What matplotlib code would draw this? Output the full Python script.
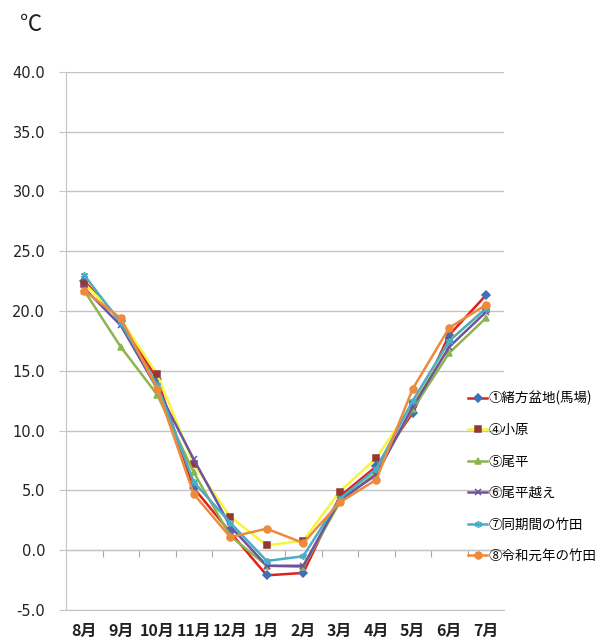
import matplotlib.pyplot as plt
import numpy as np

plt.rcParams['font.family'] = ['Noto Sans CJK JP', 'DejaVu Sans']

tsuki = ["8月", "9月", "10月", "11月", "12月", "1月", "2月", "3月", "4月", "5月", "6月", "7月"]

ogata = [22.5, 19.2, 14.3, 5.2, 1.5, -2.1, -1.9, 4.5, 7.0, 11.5, 18.0, 21.3]
ohara = [22.3, 19.3, 14.7, 7.2, 2.8, 0.4, 0.8, 4.9, 7.7, 12.2, 17.5, 20.2]
obira = [21.7, 17.0, 13.0, 6.5, 1.2, -1.3, -1.4, 4.0, 6.5, 11.8, 16.5, 19.4]
obira_goe = [21.9, 18.8, 13.5, 7.6, 2.0, -1.3, -1.3, 4.2, 6.3, 12.0, 17.0, 19.9]
taketa_doki = [23.0, 19.0, 13.8, 5.7, 2.3, -0.9, -0.5, 4.3, 6.8, 12.5, 17.5, 20.2]
taketa_r1 = [21.7, 19.4, 13.5, 4.7, 1.1, 1.8, 0.6, 4.0, 5.9, 13.5, 18.6, 20.5]

namen = ["①緒方盆地(馬場)", "④小原", "⑤尾平", "⑥尾平越え", "⑦同期間の竹田", "⑧令和元年の竹田"]

# (線の色, マーカー, マーカー色)
stil = [
    ("#E0201B", "D", "#3F6FB5"),
    ("#F5F53A", "s", "#953735"),
    ("#8FB44E", "^", "#8FB44E"),
    ("#6E52A0", "x", "#6E52A0"),
    ("#4BACC6", (6, 2, 0), "#4BACC6"),
    ("#EE8A3C", "o", "#EE8A3C"),
]

fig = plt.figure(figsize=(6.0, 6.43), dpi=100)
ax = fig.add_axes([0.11, 0.0513, 0.73, 0.837])

x = np.arange(len(tsuki))
for werte, name, (lc, mk, mc) in zip(
        [ogata, ohara, obira, obira_goe, taketa_doki, taketa_r1], namen, stil):
    ax.plot(x, werte, color=lc, lw=1.8, marker=mk, ms=5 if mk != "D" else 3.6,
            markerfacecolor=mc, markeredgecolor=mc, mew=1.1, label=name)

ax.set_xlim(-0.5, len(tsuki) - 0.5)
ax.set_ylim(-5, 40)
ax.set_yticks(np.arange(-5, 40.1, 5))
ax.set_yticklabels([f"{v:.1f}" for v in np.arange(-5, 40.1, 5)], fontsize=10.5,
                   color="#222222", family=['DejaVu Sans'])
ax.set_xticks(x)
ax.set_xticklabels(tsuki, fontsize=11.5, fontweight="bold", color="#222222")
ax.tick_params(axis="x", length=0, pad=9)
ax.tick_params(axis="y", length=5, color="#c4c4c4", pad=10)
ax.yaxis.grid(True, color="#c4c4c4", lw=1)
ax.set_axisbelow(True)
for s in ["top", "right"]:
    ax.spines[s].set_visible(False)
ax.spines["left"].set_color("#c4c4c4")
ax.spines["bottom"].set_color("#c4c4c4")

# 0℃ の横軸と目盛り
null_achse = ax.secondary_xaxis(5 / 45)
null_achse.set_xticks(np.arange(-0.5, len(tsuki), 1.0))
null_achse.set_xticklabels([])
null_achse.tick_params(length=5, color="#aaaaaa", direction="out")
null_achse.spines["bottom"].set_color("#aaaaaa")

fig.text(0.033, 0.962, "℃", fontsize=16, va="center", ha="left", color="#222222")

ax.legend(loc="center left", bbox_to_anchor=(0.918, 0.247), frameon=False,
          fontsize=9.7, handlelength=1.4, handletextpad=0.15, labelspacing=1.3,
          borderaxespad=0.0, borderpad=0.0)

fig.savefig("out.png", dpi=100)
